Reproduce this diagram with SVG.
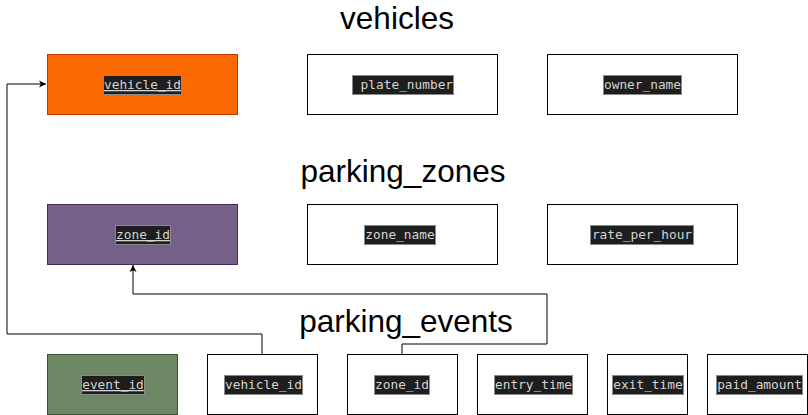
<svg xmlns="http://www.w3.org/2000/svg" width="808" height="415" viewBox="0 0 808 415">
<defs>
<style>
.box{fill:#ffffff;stroke:#000000;stroke-width:1}
.pk1{fill:#fa6800;stroke:#c73500;stroke-width:1}
.pk2{fill:#76608a;stroke:#432d57;stroke-width:1}
.pk3{fill:#6d8764;stroke:#3a5431;stroke-width:1}
.hl{fill:#1e1e1e;stroke:#8a8a8a;stroke-width:1}
.lbl{font-family:"DejaVu Sans Mono","Liberation Mono",monospace;font-size:12.8px;fill:#d4d4d4;text-anchor:middle}
.u{text-decoration:underline}
.title{font-family:"Liberation Sans",Arial,sans-serif;font-size:31.5px;fill:#000000;text-anchor:middle}
.conn{fill:none;stroke:#000000;stroke-width:1}
</style>
<marker id="arr" markerWidth="8" markerHeight="8" refX="7" refY="4" orient="auto" markerUnits="userSpaceOnUse">
<path d="M0,0.5 L7,4 L0,7.5 L1.8,4 Z" fill="#000"/>
</marker>
</defs>
<rect width="808" height="415" fill="#ffffff"/>

<g id="titles">
<text class="title" x="397" y="29">vehicles</text>
<text class="title" x="403" y="182">parking_zones</text>
<text class="title" x="406" y="332">parking_events</text>
</g>

<g id="connectors">
<path class="conn" d="M262,354 V334 H7 V84 H46" marker-end="url(#arr)"/>
<path class="conn" d="M402,354 V344 H547 V294 H133 V265" marker-end="url(#arr)"/>
</g>

<g id="v_vehicle_id">
<rect class="pk1" x="47.5" y="54.5" width="190" height="60"/>
<rect class="hl" x="103.5" y="75.5" width="78" height="19"/>
<text class="lbl u" x="142.5" y="89">vehicle_id</text>
</g>
<g id="v_plate_number">
<rect class="box" x="307.5" y="54.5" width="190" height="60"/>
<rect class="hl" x="352.5" y="75.5" width="101" height="19"/>
<text class="lbl" x="403" y="89" xml:space="preserve"> plate_number</text>
</g>
<g id="v_owner_name">
<rect class="box" x="547.5" y="54.5" width="190" height="60"/>
<rect class="hl" x="603.5" y="75.5" width="78" height="19"/>
<text class="lbl" x="642.5" y="89">owner_name</text>
</g>

<g id="z_zone_id">
<rect class="pk2" x="47.5" y="204.5" width="190" height="60"/>
<rect class="hl" x="115.5" y="225.5" width="55" height="19"/>
<text class="lbl u" x="143" y="239">zone_id</text>
</g>
<g id="z_zone_name">
<rect class="box" x="307.5" y="204.5" width="190" height="60"/>
<rect class="hl" x="364.5" y="225.5" width="71" height="19"/>
<text class="lbl" x="400" y="239">zone_name</text>
</g>
<g id="z_rate_per_hour">
<rect class="box" x="547.5" y="204.5" width="190" height="60"/>
<rect class="hl" x="590.5" y="225.5" width="103" height="19"/>
<text class="lbl" x="642" y="239">rate_per_hour</text>
</g>

<g id="e_event_id">
<rect class="pk3" x="47.5" y="354.5" width="130" height="60"/>
<rect class="hl" x="81.5" y="375.5" width="63" height="19"/>
<text class="lbl u" x="113" y="389">event_id</text>
</g>
<g id="e_vehicle_id">
<rect class="box" x="207.5" y="354.5" width="110" height="60"/>
<rect class="hl" x="224.5" y="375.5" width="78" height="19"/>
<text class="lbl" x="263.5" y="389">vehicle_id</text>
</g>
<g id="e_zone_id">
<rect class="box" x="347.5" y="354.5" width="110" height="60"/>
<rect class="hl" x="374.5" y="375.5" width="55" height="19"/>
<text class="lbl" x="402" y="389">zone_id</text>
</g>
<g id="e_entry_time">
<rect class="box" x="477.5" y="354.5" width="110" height="60"/>
<rect class="hl" x="494.5" y="375.5" width="78" height="19"/>
<text class="lbl" x="533.5" y="389">entry_time</text>
</g>
<g id="e_exit_time">
<rect class="box" x="607.5" y="354.5" width="80" height="60"/>
<rect class="hl" x="612.5" y="375.5" width="71" height="19"/>
<text class="lbl" x="648" y="389">exit_time</text>
</g>
<g id="e_paid_amount">
<rect class="box" x="707.5" y="354.5" width="100" height="60"/>
<rect class="hl" x="716.5" y="375.5" width="86" height="19"/>
<text class="lbl" x="759.5" y="389">paid_amount</text>
</g>
</svg>
